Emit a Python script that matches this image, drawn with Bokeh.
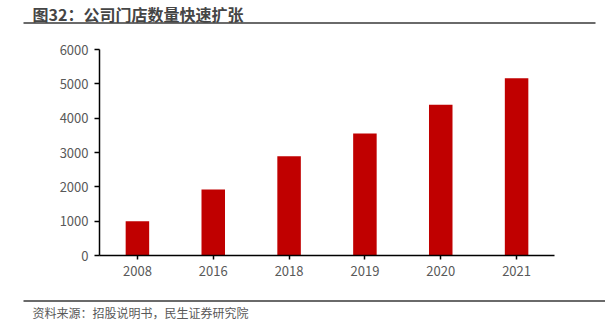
from bokeh.plotting import figure
from bokeh.models import FixedTicker, Range1d
from bokeh.layouts import column, row
from bokeh.core.properties import value
from bokeh.embed import file_html
from bokeh.resources import INLINE

years = ["2008", "2016", "2018", "2019", "2020", "2021"]
stores = [1000, 1920, 2890, 3550, 4390, 5160]
y_ticks = [0, 1000, 2000, 3000, 4000, 5000, 6000]
title_text = "图32：公司门店数量快速扩张"
source_text = "资料来源：招股说明书，民生证券研究院"

FONT = "Noto Sans CJK SC"
W = 605


def blank(y0, y1):
    f = figure(width=W, height=y1 - y0, x_range=Range1d(0, W), y_range=Range1d(y1, y0),
               output_backend="svg", toolbar_location=None,
               x_axis_type=None, y_axis_type=None,
               min_border=0, min_border_left=0, min_border_right=0,
               min_border_top=0, min_border_bottom=0)
    f.outline_line_color = None
    f.xgrid.grid_line_color = None
    f.ygrid.grid_line_color = None
    f.background_fill_color = "white"
    f.border_fill_color = "white"
    return f


# header
head = blank(0, 30)
head.quad(left=[23], right=[595], top=[21.5], bottom=[23.5], fill_color="#6a6a6a", line_color=None)
head.text(x=[32], y=[13], text=[title_text], text_font=value(FONT), text_font_size="16px",
          text_font_style="bold", text_color="#454545", text_baseline="middle", text_align="left")

# chart
p = figure(x_range=years, y_range=(0, 6000), width=W, height=260,
           output_backend="svg", toolbar_location=None,
           min_border_left=99, min_border_right=51,
           min_border_top=19, min_border_bottom=35)
p.outline_line_color = None
p.xgrid.grid_line_color = None
p.ygrid.grid_line_color = None
p.background_fill_color = "white"
p.border_fill_color = "white"

p.vbar(x=years, top=stores, width=0.31, color="#C00000", line_color=None)

for ax in (p.xaxis[0], p.yaxis[0]):
    ax.axis_line_color = "#000000"
    ax.axis_line_width = 1.5
    ax.major_tick_line_color = "#000000"
    ax.major_tick_line_width = 1.5
    ax.minor_tick_line_color = None
    ax.major_label_text_font = FONT
    ax.major_label_text_font_size = "13px"
    ax.major_label_text_color = "#595959"

p.yaxis[0].ticker = FixedTicker(ticks=y_ticks)
p.yaxis[0].major_tick_in = 0
p.yaxis[0].major_tick_out = 5
p.yaxis[0].major_label_standoff = 6
p.xaxis[0].major_tick_in = 0
p.xaxis[0].major_tick_out = 4
p.xaxis[0].major_label_standoff = 6

# footer
foot = blank(290, 331)
foot.quad(left=[23], right=[W], top=[299.5], bottom=[301.5], fill_color="#6a6a6a", line_color=None)
foot.text(x=[32], y=[312], text=[source_text], text_font=value(FONT), text_font_size="12px",
          text_color="#595959", text_baseline="middle", text_align="left")

layout = column(row(head), row(p), row(foot), spacing=0)

out = open("out.html", "w")
out.write(file_html(layout, INLINE))
out.close()
